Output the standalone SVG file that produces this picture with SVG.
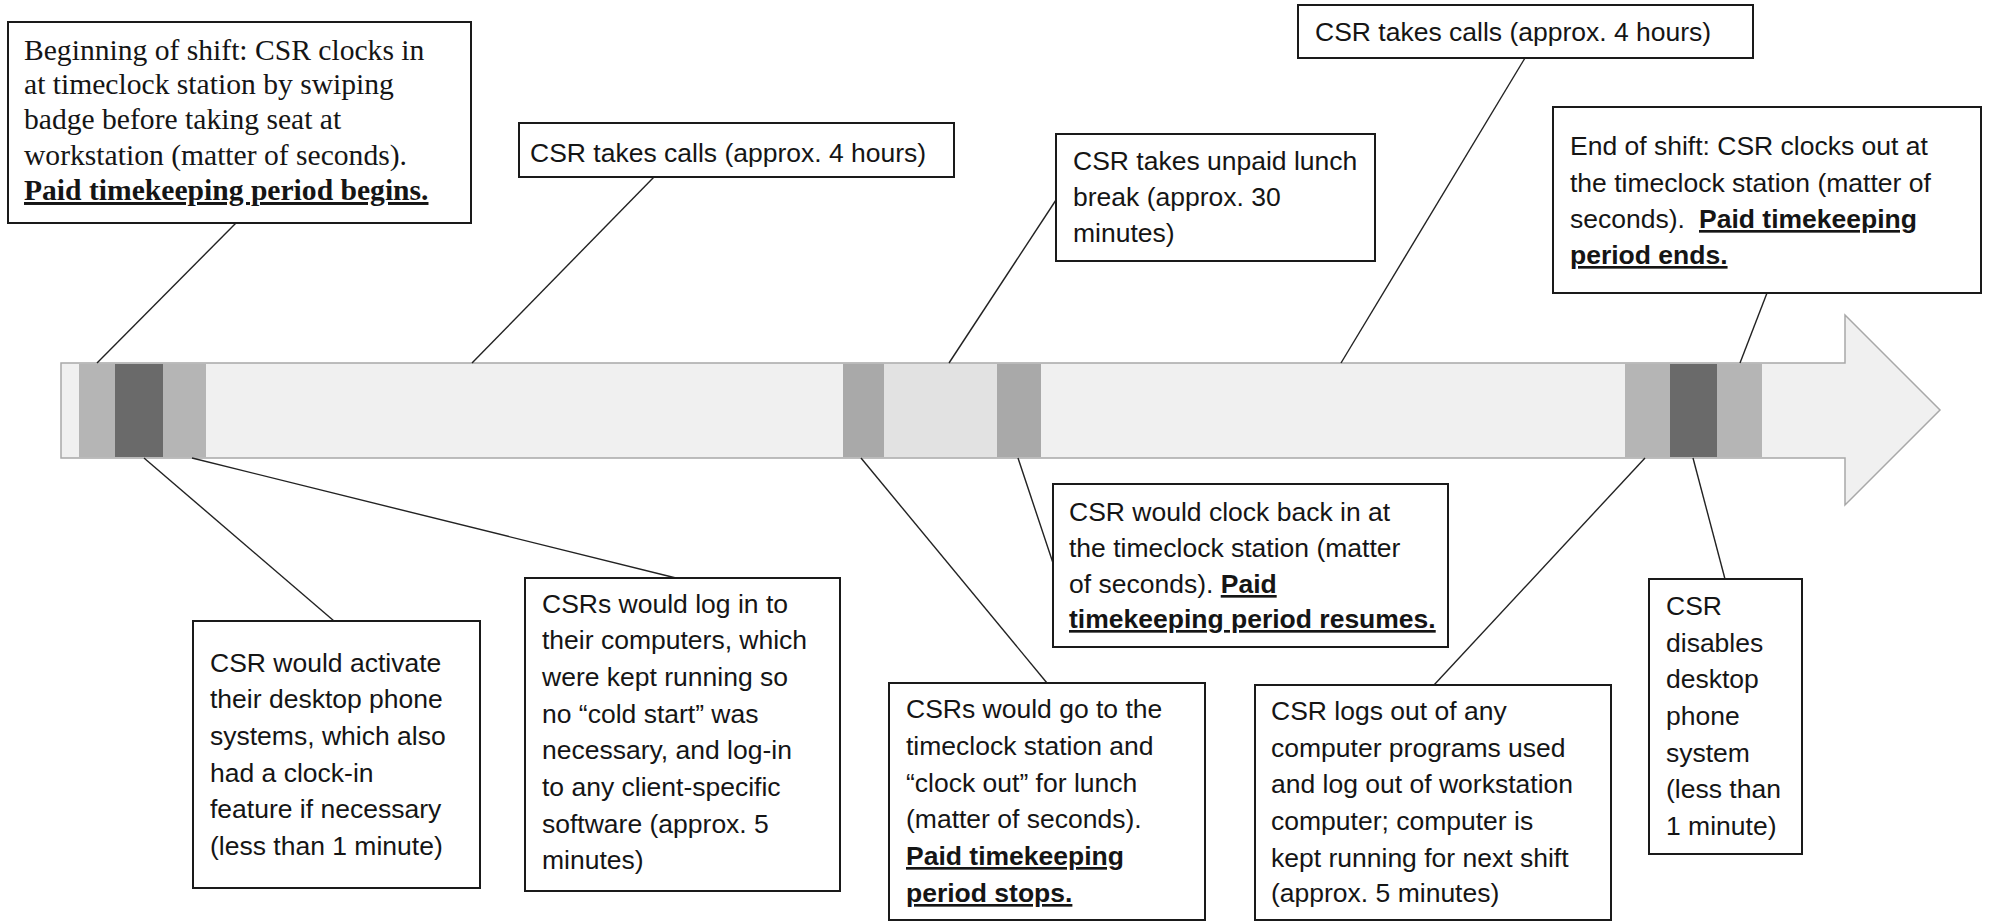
<svg xmlns="http://www.w3.org/2000/svg" width="1990" height="922" viewBox="0 0 1990 922">
<style>
.box{fill:#fff;stroke:#1a1a1a;stroke-width:2}
.t{font-family:"Liberation Sans",Arial,sans-serif;font-size:26.5px;fill:#151515}
.s{font-family:"Liberation Serif","Times New Roman",serif;font-size:29.6px;fill:#151515}
.b{font-weight:bold;text-decoration:underline}
.c{stroke:#222;stroke-width:1.4;fill:none}
.band1{fill:#b5b5b5}
.dark{fill:#6a6a6a}
.lunchd{fill:#a9a9a9}
.lunchl{fill:#e2e2e2}
</style>
<rect width="1990" height="922" fill="#fff"/>
<g id="timeline">
<polygon points="61,363 1845,363 1845,315 1940,410 1845,505 1845,458 61,458" fill="#f0f0f0" stroke="#a8a8a8" stroke-width="1.5"/>
<rect x="79" y="364" width="36" height="93" class="band1"/>
<rect x="115" y="364" width="48" height="93" class="dark"/>
<rect x="163" y="364" width="43" height="93" class="band1"/>
<rect x="843" y="364" width="41" height="93" class="lunchd"/>
<rect x="884" y="364" width="113" height="93" class="lunchl"/>
<rect x="997" y="364" width="44" height="93" class="lunchd"/>
<rect x="1625" y="364" width="45" height="93" class="band1"/>
<rect x="1670" y="364" width="47" height="93" class="dark"/>
<rect x="1717" y="364" width="45" height="93" class="band1"/>
</g>
<g id="connectors">
<line class="c" x1="236" y1="223" x2="97" y2="363"/>
<line class="c" x1="654" y1="177" x2="472" y2="363"/>
<line class="c" x1="1056" y1="200" x2="949" y2="363"/>
<line class="c" x1="1525" y1="58" x2="1341" y2="363"/>
<line class="c" x1="1767" y1="293" x2="1740" y2="363"/>
<line class="c" x1="144" y1="458" x2="334" y2="621"/>
<line class="c" x1="192" y1="458" x2="676" y2="578"/>
<line class="c" x1="861" y1="458" x2="1047" y2="683"/>
<line class="c" x1="1018" y1="458" x2="1053" y2="563"/>
<line class="c" x1="1645" y1="458" x2="1434" y2="685"/>
<line class="c" x1="1693" y1="458" x2="1725" y2="579"/>
</g>
<g id="n-begin">
<rect class="box" x="8" y="22" width="463" height="201"/>
<text class="s"><tspan x="24" y="60">Beginning of shift: CSR clocks in</tspan><tspan x="24" y="94">at timeclock station by swiping</tspan><tspan x="24" y="129">badge before taking seat at</tspan><tspan x="24" y="165">workstation (matter of seconds).</tspan><tspan x="24" y="200" class="b">Paid timekeeping period begins.</tspan></text>
</g>
<g id="n-calls1">
<rect class="box" x="519" y="123" width="435" height="54"/>
<text class="t"><tspan x="530" y="162">CSR takes calls (approx. 4 hours)</tspan></text>
</g>
<g id="n-lunch">
<rect class="box" x="1056" y="134" width="319" height="127"/>
<text class="t"><tspan x="1073" y="170">CSR takes unpaid lunch</tspan><tspan x="1073" y="206">break (approx. 30</tspan><tspan x="1073" y="242">minutes)</tspan></text>
</g>
<g id="n-calls2">
<rect class="box" x="1298" y="5" width="455" height="53"/>
<text class="t"><tspan x="1315" y="41">CSR takes calls (approx. 4 hours)</tspan></text>
</g>
<g id="n-end">
<rect class="box" x="1553" y="107" width="428" height="186"/>
<text class="t"><tspan x="1570" y="155">End of shift: CSR clocks out at</tspan><tspan x="1570" y="192">the timeclock station (matter of</tspan><tspan x="1570" y="228">seconds).</tspan><tspan x="1699" y="228" class="b">Paid timekeeping</tspan><tspan x="1570" y="264" class="b">period ends.</tspan></text>
</g>
<g id="n-activate">
<rect class="box" x="193" y="621" width="287" height="267"/>
<text class="t"><tspan x="210" y="672">CSR would activate</tspan><tspan x="210" y="708">their desktop phone</tspan><tspan x="210" y="745">systems, which also</tspan><tspan x="210" y="782">had a clock-in</tspan><tspan x="210" y="818">feature if necessary</tspan><tspan x="210" y="855">(less than 1 minute)</tspan></text>
</g>
<g id="n-login">
<rect class="box" x="525" y="578" width="315" height="313"/>
<text class="t"><tspan x="542" y="613">CSRs would log in to</tspan><tspan x="542" y="649">their computers, which</tspan><tspan x="542" y="686">were kept running so</tspan><tspan x="542" y="723">no “cold start” was</tspan><tspan x="542" y="759">necessary, and log-in</tspan><tspan x="542" y="796">to any client-specific</tspan><tspan x="542" y="833">software (approx. 5</tspan><tspan x="542" y="869">minutes)</tspan></text>
</g>
<g id="n-clockout">
<rect class="box" x="889" y="683" width="316" height="237"/>
<text class="t"><tspan x="906" y="718">CSRs would go to the</tspan><tspan x="906" y="755">timeclock station and</tspan><tspan x="906" y="792">“clock out” for lunch</tspan><tspan x="906" y="828">(matter of seconds).</tspan><tspan x="906" y="865" class="b">Paid timekeeping</tspan><tspan x="906" y="902" class="b">period stops.</tspan></text>
</g>
<g id="n-clockin">
<rect class="box" x="1053" y="484" width="395" height="163"/>
<text class="t"><tspan x="1069" y="521">CSR would clock back in at</tspan><tspan x="1069" y="557">the timeclock station (matter</tspan><tspan x="1069" y="593">of seconds). </tspan><tspan class="b">Paid</tspan><tspan x="1069" y="628" class="b">timekeeping period resumes.</tspan></text>
</g>
<g id="n-logout">
<rect class="box" x="1255" y="685" width="356" height="235"/>
<text class="t"><tspan x="1271" y="720">CSR logs out of any</tspan><tspan x="1271" y="757">computer programs used</tspan><tspan x="1271" y="793">and log out of workstation</tspan><tspan x="1271" y="830">computer; computer is</tspan><tspan x="1271" y="867">kept running for next shift</tspan><tspan x="1271" y="902">(approx. 5 minutes)</tspan></text>
</g>
<g id="n-disable">
<rect class="box" x="1649" y="579" width="153" height="275"/>
<text class="t"><tspan x="1666" y="615">CSR</tspan><tspan x="1666" y="652">disables</tspan><tspan x="1666" y="688">desktop</tspan><tspan x="1666" y="725">phone</tspan><tspan x="1666" y="762">system</tspan><tspan x="1666" y="798">(less than</tspan><tspan x="1666" y="835">1 minute)</tspan></text>
</g>
</svg>
